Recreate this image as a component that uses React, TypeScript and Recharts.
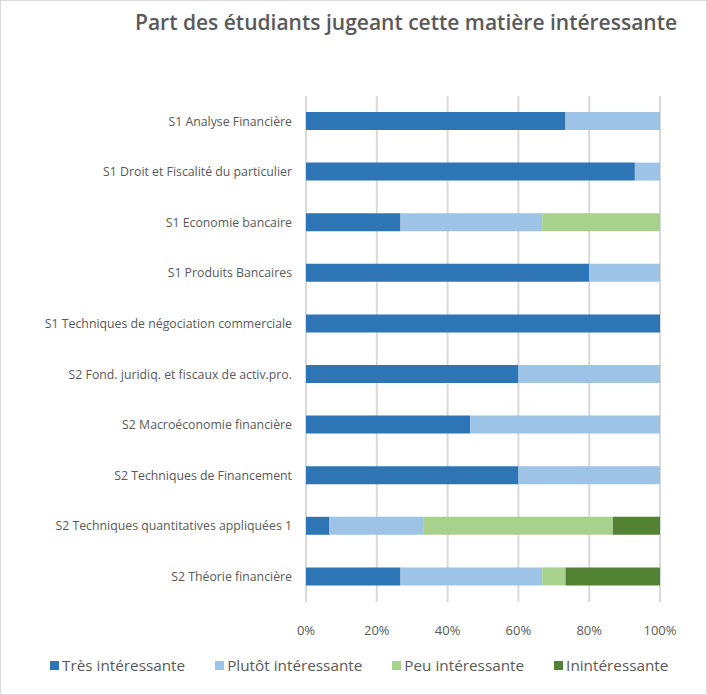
import { Bar, BarChart, CartesianGrid, XAxis, YAxis } from 'recharts';

const categories = [
  'S1 Analyse Financière',
  'S1 Droit et Fiscalité du particulier',
  'S1 Economie bancaire',
  'S1 Produits Bancaires',
  'S1 Techniques de négociation commerciale',
  'S2 Fond. juridiq. et fiscaux de activ.pro.',
  'S2 Macroéconomie financière',
  'S2 Techniques de Financement',
  'S2 Techniques quantitatives appliquées 1',
  'S2 Théorie financière',
];

const tres = [73.3, 92.9, 26.7, 80, 100, 60, 46.4, 60, 6.5, 26.7];
const plutot = [26.7, 7.1, 40, 20, 0, 40, 53.6, 40, 26.8, 40];
const peu = [0, 0, 33.3, 0, 0, 0, 0, 0, 53.4, 6.6];
const inint = [0, 0, 0, 0, 0, 0, 0, 0, 13.3, 26.7];

const xTicks = [0, 20, 40, 60, 80, 100];

const SERIES = [
  { key: 'tres', label: 'Très intéressante', color: '#2e75b6' },
  { key: 'plutot', label: 'Plutôt intéressante', color: '#9dc3e6' },
  { key: 'peu', label: 'Peu intéressante', color: '#a9d18e' },
  { key: 'inint', label: 'Inintéressante', color: '#548235' },
];

const FONT = '"Open Sans", sans-serif';

export default function App() {
  const data = categories.map((name, i) => ({
    name,
    tres: tres[i],
    plutot: plutot[i],
    peu: peu[i],
    inint: inint[i],
  }));

  return (
    <div
      style={{
        position: 'absolute',
        left: 0,
        top: 0,
        width: 707,
        height: 695,
        boxSizing: 'border-box',
        border: '1px solid #d9d9d9',
        background: '#fff',
        fontFamily: FONT,
      }}
    >
      <div
        style={{
          position: 'absolute',
          left: 134,
          top: 7,
          fontSize: 21,
          fontWeight: 600,
          color: '#595959',
          whiteSpace: 'nowrap',
        }}
      >
        Part des étudiants jugeant cette matière intéressante
      </div>

      <div style={{ position: 'absolute', left: -1, top: -1 }}>
        <BarChart
          width={707}
          height={695}
          data={data}
          layout="vertical"
          margin={{ top: 96, right: 47, bottom: 63, left: 0 }}
          barSize={18}
        >
          <CartesianGrid horizontal={false} stroke="#d9d9d9" strokeWidth={2} />
          <XAxis
            type="number"
            domain={[0, 100]}
            ticks={xTicks}
            tickFormatter={(v) => `${v}%`}
            axisLine={false}
            tickLine={false}
            tickMargin={18}
            height={30}
            tick={{ fontSize: 13, fill: '#595959', fontFamily: FONT }}
          />
          <YAxis
            type="category"
            dataKey="name"
            width={306}
            axisLine={false}
            tickLine={false}
            tickMargin={8}
            interval={0}
            tick={{ fontSize: 12.3, fill: '#595959', fontFamily: FONT }}
          />
          {SERIES.map((s) => (
            <Bar key={s.key} dataKey={s.key} stackId="a" fill={s.color} isAnimationActive={false} />
          ))}
        </BarChart>
      </div>

      <div
        style={{
          position: 'absolute',
          left: 49,
          top: 654,
          display: 'flex',
          alignItems: 'center',
          fontSize: 15.3,
          color: '#595959',
          whiteSpace: 'nowrap',
        }}
      >
        {SERIES.map((s) => (
          <div key={s.key} style={{ display: 'flex', alignItems: 'center', marginRight: 30 }}>
            <span style={{ display: 'inline-block', width: 9, height: 9, background: s.color, marginRight: 3 }} />
            <span>{s.label}</span>
          </div>
        ))}
      </div>
    </div>
  );
}
